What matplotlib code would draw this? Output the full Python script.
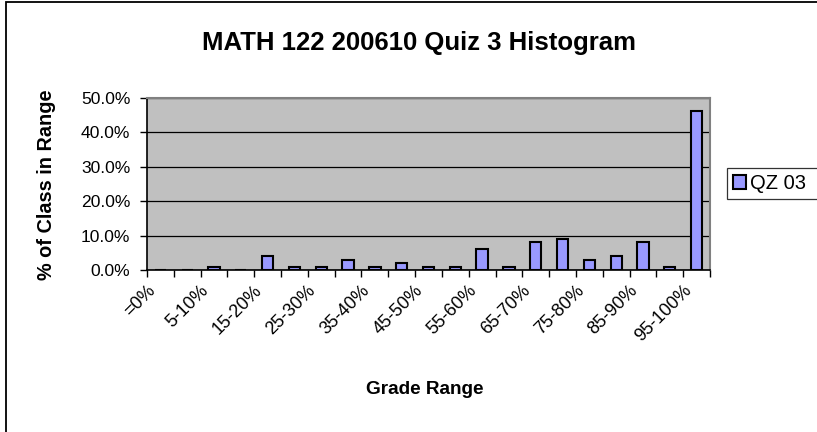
import numpy as np
import matplotlib.pyplot as plt
from matplotlib.patches import Rectangle
from matplotlib.ticker import FixedLocator, FuncFormatter
import matplotlib.transforms as mtransforms

plt.rcParams['font.family'] = ['Liberation Sans', 'DejaVu Sans']

# grade ranges (one bar each) and % of class in each
ranges = ['=0%', '0-5%', '5-10%', '10-15%', '15-20%', '20-25%', '25-30%',
          '30-35%', '35-40%', '40-45%', '45-50%', '50-55%', '55-60%',
          '60-65%', '65-70%', '70-75%', '75-80%', '80-85%', '85-90%',
          '90-95%', '95-100%']
qz03 = [0, 0, 1, 0, 4, 1, 1, 3, 1, 2, 1, 1, 6, 1, 8, 9, 3, 4, 8, 1, 46]
yticks = [0, 10, 20, 30, 40, 50]

W, H = 817, 432
fig = plt.figure(figsize=(W / 100, H / 100), dpi=100)

# chart area border (runs off the right / bottom of the image)
fig.patches.append(Rectangle((6 / W, -0.1), 1.0, 1.1 - 1.5 / H,
                             transform=fig.transFigure, fill=False,
                             ec='black', lw=1.3))

x0, x1, ytop, ybot = 147, 710, 97.7, 270
ax = fig.add_axes([x0 / W, 1 - ybot / H, (x1 - x0) / W, (ybot - ytop) / H])
ax.set_facecolor('#C0C0C0')

xs = np.arange(len(ranges))
bars = ax.bar(xs, np.array(qz03) / 100, width=0.42, color='#9999FF',
              edgecolor='black', linewidth=1.5, label='QZ 03', zorder=3)

ax.set_xlim(-0.5, len(ranges) - 0.5)
ax.set_ylim(0, 0.5)

# y axis
ax.set_yticks(np.array(yticks) / 100)
ax.yaxis.set_major_formatter(FuncFormatter(lambda v, p: '%.1f%%' % (v * 100)))
ax.tick_params(axis='y', direction='out', length=5, width=1, pad=7,
               labelsize=12.6, color='black')
ax.grid(axis='y', color='black', lw=0.9, zorder=1)

# x axis: ticks between categories, every other label at centres
ax.xaxis.set_major_locator(FixedLocator(np.arange(-0.5, len(ranges), 1.0)))
ax.xaxis.set_major_formatter(FuncFormatter(lambda v, p: ''))
ax.xaxis.set_minor_locator(FixedLocator(xs[::2]))
ax.set_xticklabels([ranges[i] for i in xs[::2]], minor=True)
ax.tick_params(axis='x', which='major', direction='out', length=5, width=1)
ax.tick_params(axis='x', which='minor', length=0, pad=13, labelsize=13)
shift = mtransforms.ScaledTranslation(-8 / 100, 0, fig.dpi_scale_trans)
for lab in ax.get_xticklabels(minor=True):
    lab.set_rotation(45)
    lab.set_ha('right')
    lab.set_va('center')
    lab.set_rotation_mode('anchor')
    lab.set_transform(lab.get_transform() + shift)

for s in ['top', 'right']:
    ax.spines[s].set_color('#808080')
    ax.spines[s].set_linewidth(1.5)
for s in ['left', 'bottom']:
    ax.spines[s].set_color('black')
    ax.spines[s].set_linewidth(1.2)

fig.text(419 / W, 1 - 43 / H, 'MATH 122 200610 Quiz 3 Histogram',
         ha='center', va='center', fontsize=18.5, fontweight='bold')
fig.text(47 / W, 1 - 185 / H, '% of Class in Range', rotation=90,
         ha='center', va='center', fontsize=14.3, fontweight='bold')
fig.text(425 / W, 1 - 389 / H, 'Grade Range', ha='center', va='center',
         fontsize=13.7, fontweight='bold')

leg = fig.legend(handles=[bars], loc='center left',
                 bbox_to_anchor=(727 / W, 1 - 199 / H, 0.2, 31 / H),
                 mode='expand', frameon=True, fancybox=False, shadow=False,
                 fontsize=14.5, handlelength=0.65, handleheight=0.65,
                 handletextpad=0.2, borderpad=0.3, borderaxespad=0)
leg.get_frame().set_edgecolor('black')
leg.get_frame().set_linewidth(0.9)

fig.savefig('out.png', dpi=100)
